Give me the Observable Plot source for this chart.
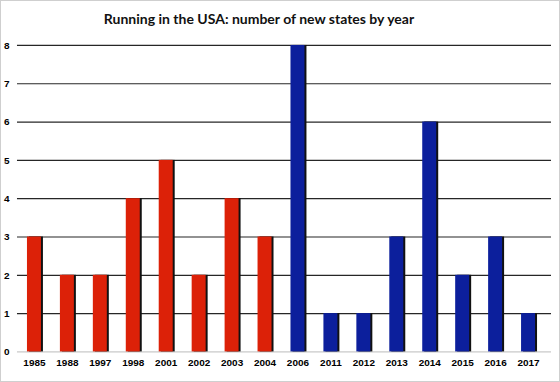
<!DOCTYPE html>
<html><head><meta charset="utf-8">
<script src="https://cdn.jsdelivr.net/npm/d3@7"></script>
<script src="https://cdn.jsdelivr.net/npm/@observablehq/plot@0.6"></script>
<style>
body{margin:0;background:#fff;}
#wrap{position:relative;width:558px;height:380px;border:1px solid #cfcfcf;background:#fff;overflow:hidden;}
#title{position:absolute;left:0;width:516px;top:9px;text-align:center;font:bold 14px Lato,sans-serif;color:#111;}
#chart{position:absolute;left:-1px;top:28px;}
</style></head>
<body>
<div id="wrap"><div id="title">Running in the USA: number of new states by year</div><div id="chart"></div></div>
<script>
const years = ["1985","1988","1997","1998","2001","2002","2003","2004","2006","2011","2012","2013","2014","2015","2016","2017"];
const counts = [3,2,2,4,5,2,4,3,8,1,1,3,6,2,3,1];
const era = ["red","red","red","red","red","red","red","red","blue","blue","blue","blue","blue","blue","blue","blue"];
const yTicks = [0,1,2,3,4,5,6,7,8];
const colors = {red:"#dc2108", blue:"#0c1f9c"};

const data = years.map((y,i)=>({year:y,count:counts[i],era:era[i]}));

const plot = Plot.plot({
  width:560, height:352,
  marginLeft:17, marginRight:8, marginTop:16, marginBottom:29,
  x:{domain:years, paddingInner:0.577, paddingOuter:0.377, align:0.4, label:null},
  y:{domain:[0,8], label:null, ticks:yTicks},
  style:{fontFamily:"Arial, 'Liberation Sans', sans-serif", fontSize:"10px", fontWeight:"bold", color:"#000", overflow:"visible"},
  marks:[
    Plot.ruleY(yTicks.filter(d=>d>0), {stroke:"#000", strokeWidth:1.2, strokeOpacity:0.85}),
    Plot.ruleY([0], {stroke:"#bbb"}),
    Plot.barY(data, {x:"year", y:"count", fill:"#111", dx:2}),
    Plot.barY(data, {x:"year", y:"count", fill:d=>colors[d.era]}),
    Plot.axisX({tickSize:0, tickPadding:7, fontWeight:"bold"}),
    Plot.axisY({ticks:yTicks, tickSize:0, tickPadding:8, fontWeight:"bold"})
  ]
});
document.getElementById("chart").appendChild(plot);
</script>
</body></html>
